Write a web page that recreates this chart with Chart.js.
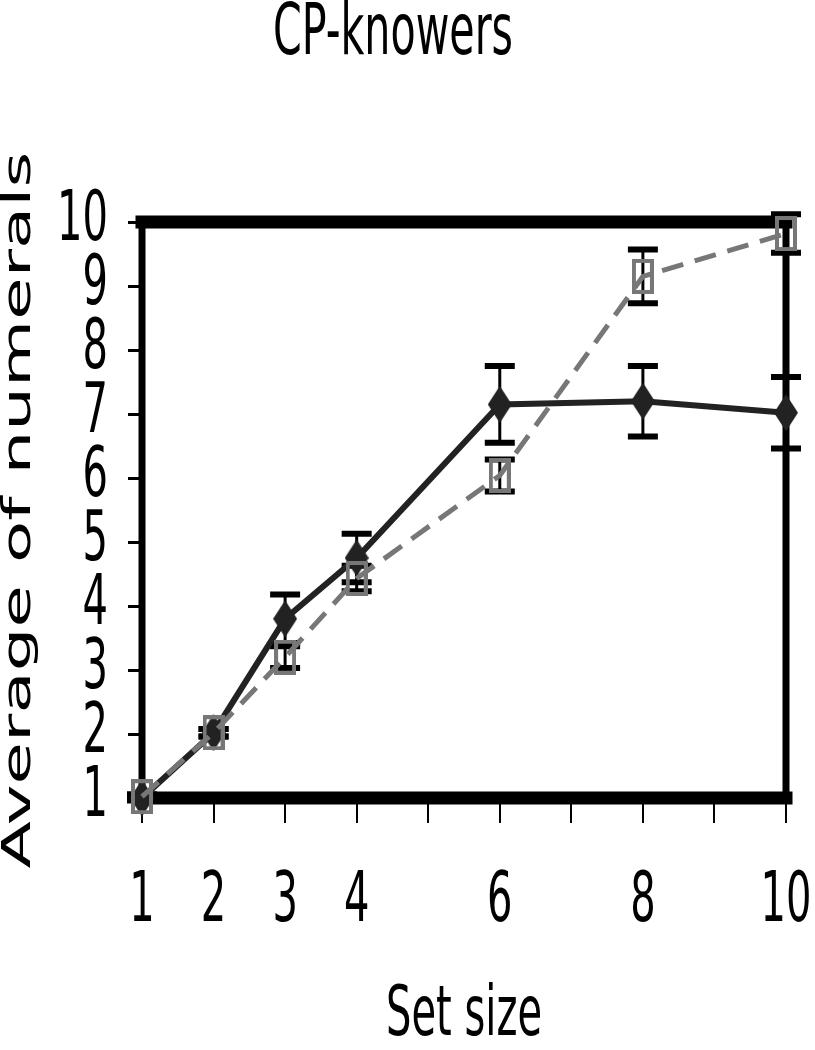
<!DOCTYPE html>
<html>
<head>
<meta charset="utf-8">
<script src="https://cdn.jsdelivr.net/npm/chart.js@4.4.1/dist/chart.umd.min.js"></script>
<style>
  html, body { margin: 0; padding: 0; background: #fff; }
</style>
</head>
<body>
<canvas id="cpChart" width="815" height="1050"></canvas>
<script>
// values
const setSizes = [1, 2, 3, 4, 6, 8, 10];
const solidMeans = [1.0, 2.02, 3.8, 4.75, 7.15, 7.2, 7.02];
const solidErrors = [0.04, 0.06, 0.38, 0.38, 0.6, 0.55, 0.56];
const dashedMeans = [1.02, 2.02, 3.2, 4.43, 6.04, 9.15, 9.82];
const dashedErrors = [0.04, 0.06, 0.17, 0.2, 0.25, 0.42, 0.3];
const labelledSizes = [1, 2, 3, 4, 6, 8, 10];

const textFont = '"DejaVu Sans", Verdana, sans-serif';

function makeDiamond(w, h, color) {
    const c = document.createElement('canvas');
    c.width = w; c.height = h;
    const g = c.getContext('2d');
    g.fillStyle = color;
    g.beginPath();
    g.moveTo(w / 2, 0);
    g.lineTo(w, h / 2);
    g.lineTo(w / 2, h);
    g.lineTo(0, h / 2);
    g.closePath();
    g.fill();
    return c;
}

function makeBox(w, h, color, lw) {
    const c = document.createElement('canvas');
    c.width = w; c.height = h;
    const g = c.getContext('2d');
    g.strokeStyle = color;
    g.lineWidth = lw;
    g.strokeRect(lw / 2, lw / 2, w - lw, h - lw);
    return c;
}

const diamondMark = makeDiamond(24, 37, '#222');
const boxMark = makeBox(22, 35, '#777', 4);

// thick frame round the plot area
const framePlugin = {
    id: 'frame',
    beforeDatasetsDraw(chart) {
        const { ctx, chartArea: a } = chart;
        ctx.save();
        ctx.strokeStyle = '#000';
        ctx.lineCap = 'square';
        ctx.lineWidth = 7;
        ctx.beginPath();
        ctx.moveTo(a.left, a.top); ctx.lineTo(a.left, a.bottom);
        ctx.moveTo(a.right, a.top); ctx.lineTo(a.right, a.bottom);
        ctx.stroke();
        ctx.lineWidth = 13;
        ctx.beginPath();
        ctx.moveTo(a.left, a.top); ctx.lineTo(a.right, a.top);
        ctx.moveTo(a.left, a.bottom); ctx.lineTo(a.right, a.bottom);
        ctx.stroke();
        ctx.restore();
    }
};

// error bars, drawn under the markers
const errorBarPlugin = {
    id: 'errorBars',
    beforeDatasetsDraw(chart) {
        const { ctx, scales: { x, y } } = chart;
        ctx.save();
        ctx.strokeStyle = '#000';
        [[solidMeans, solidErrors], [dashedMeans, dashedErrors]].forEach(([means, errs]) => {
            setSizes.forEach((s, i) => {
                const px = x.getPixelForValue(s);
                const top = y.getPixelForValue(means[i] + errs[i]);
                const bot = y.getPixelForValue(means[i] - errs[i]);
                ctx.lineWidth = 3;
                ctx.beginPath();
                ctx.moveTo(px, top); ctx.lineTo(px, bot);
                ctx.stroke();
                ctx.lineWidth = 6;
                ctx.beginPath();
                ctx.moveTo(px - 15, top); ctx.lineTo(px + 15, top);
                ctx.moveTo(px - 15, bot); ctx.lineTo(px + 15, bot);
                ctx.stroke();
            });
        });
        ctx.restore();
    }
};

// the reference is stretched tall, so text is squeezed (or stretched) along its own direction
function squeezeText(target, method, sx, ctx) {
    if (!target || target['_sq_' + method]) return;
    const orig = target[method].bind(target);
    target[method] = function(...args) {
        const fill = ctx.fillText;
        ctx.fillText = function(text, x, y, maxWidth) {
            ctx.save();
            ctx.translate(x, y);
            ctx.scale(sx, 1);
            fill.call(ctx, text, 0, 0, maxWidth);
            ctx.restore();
        };
        try {
            orig(...args);
        } finally {
            ctx.fillText = fill;
        }
    };
    target['_sq_' + method] = true;
}

const squeezePlugin = {
    id: 'squeeze',
    beforeDraw(chart) {
        const ctx = chart.ctx;
        squeezeText(chart.scales.x, 'drawLabels', 0.58, ctx);
        squeezeText(chart.scales.x, 'drawTitle', 0.58, ctx);
        squeezeText(chart.scales.y, 'drawLabels', 0.58, ctx);
        squeezeText(chart.scales.y, 'drawTitle', 1.77, ctx);
        squeezeText(chart.titleBlock, 'draw', 0.58, ctx);
    }
};

Chart.defaults.color = '#000';

new Chart(document.getElementById('cpChart'), {
    type: 'line',
    data: {
        datasets: [
            {
                label: 'dashed',
                data: setSizes.map((s, i) => ({ x: s, y: dashedMeans[i] })),
                borderColor: '#777',
                borderWidth: 5,
                borderDash: [22, 12],
                pointStyle: boxMark,
                clip: false,
                order: 0
            },
            {
                label: 'solid',
                data: setSizes.map((s, i) => ({ x: s, y: solidMeans[i] })),
                borderColor: '#222',
                borderWidth: 6,
                pointStyle: diamondMark,
                clip: false,
                order: 1
            }
        ]
    },
    options: {
        responsive: false,
        animation: false,
        layout: { padding: { left: 0, right: 29, top: 0, bottom: 0 } },
        plugins: {
            legend: { display: false },
            tooltip: { enabled: false },
            title: {
                display: true,
                text: 'CP-knowers',
                font: { family: textFont, size: 71, weight: 'normal', lineHeight: 1 },
                padding: { top: 0, bottom: 151 }
            }
        },
        scales: {
            x: {
                type: 'linear',
                min: 1,
                max: 10,
                afterFit: function(scale) {
                    scale.height = 252;
                    scale.paddingLeft = 0;
                    scale.paddingRight = 0;
                },
                grid: { drawOnChartArea: false, drawTicks: true, tickLength: 25, color: '#000', lineWidth: 2 },
                border: { display: false },
                ticks: {
                    stepSize: 1,
                    autoSkip: false,
                    maxRotation: 0,
                    padding: 46,
                    font: { family: textFont, size: 69, lineHeight: 1 },
                    callback: function(v) {
                        return labelledSizes.includes(v) ? String(v) : '';
                    }
                },
                title: {
                    display: true,
                    text: 'Set size',
                    font: { family: textFont, size: 69, lineHeight: 1 },
                    padding: { top: 0, bottom: -2 }
                }
            },
            y: {
                min: 1,
                max: 10,
                afterFit: function(scale) {
                    scale.width = 142;
                    scale.paddingTop = 0;
                    scale.paddingBottom = 0;
                },
                grid: { drawOnChartArea: false, drawTicks: true, tickLength: 14, color: '#000', lineWidth: 3 },
                border: { display: false },
                ticks: {
                    stepSize: 1,
                    autoSkip: false,
                    padding: 20,
                    font: { family: textFont, size: 69, lineHeight: 1 }
                },
                title: {
                    display: true,
                    text: 'Average of numerals',
                    font: { family: textFont, size: 39, lineHeight: 1 },
                    padding: { top: 0, bottom: 0 }
                }
            }
        }
    },
    plugins: [framePlugin, errorBarPlugin, squeezePlugin]
});
</script>
</body>
</html>
